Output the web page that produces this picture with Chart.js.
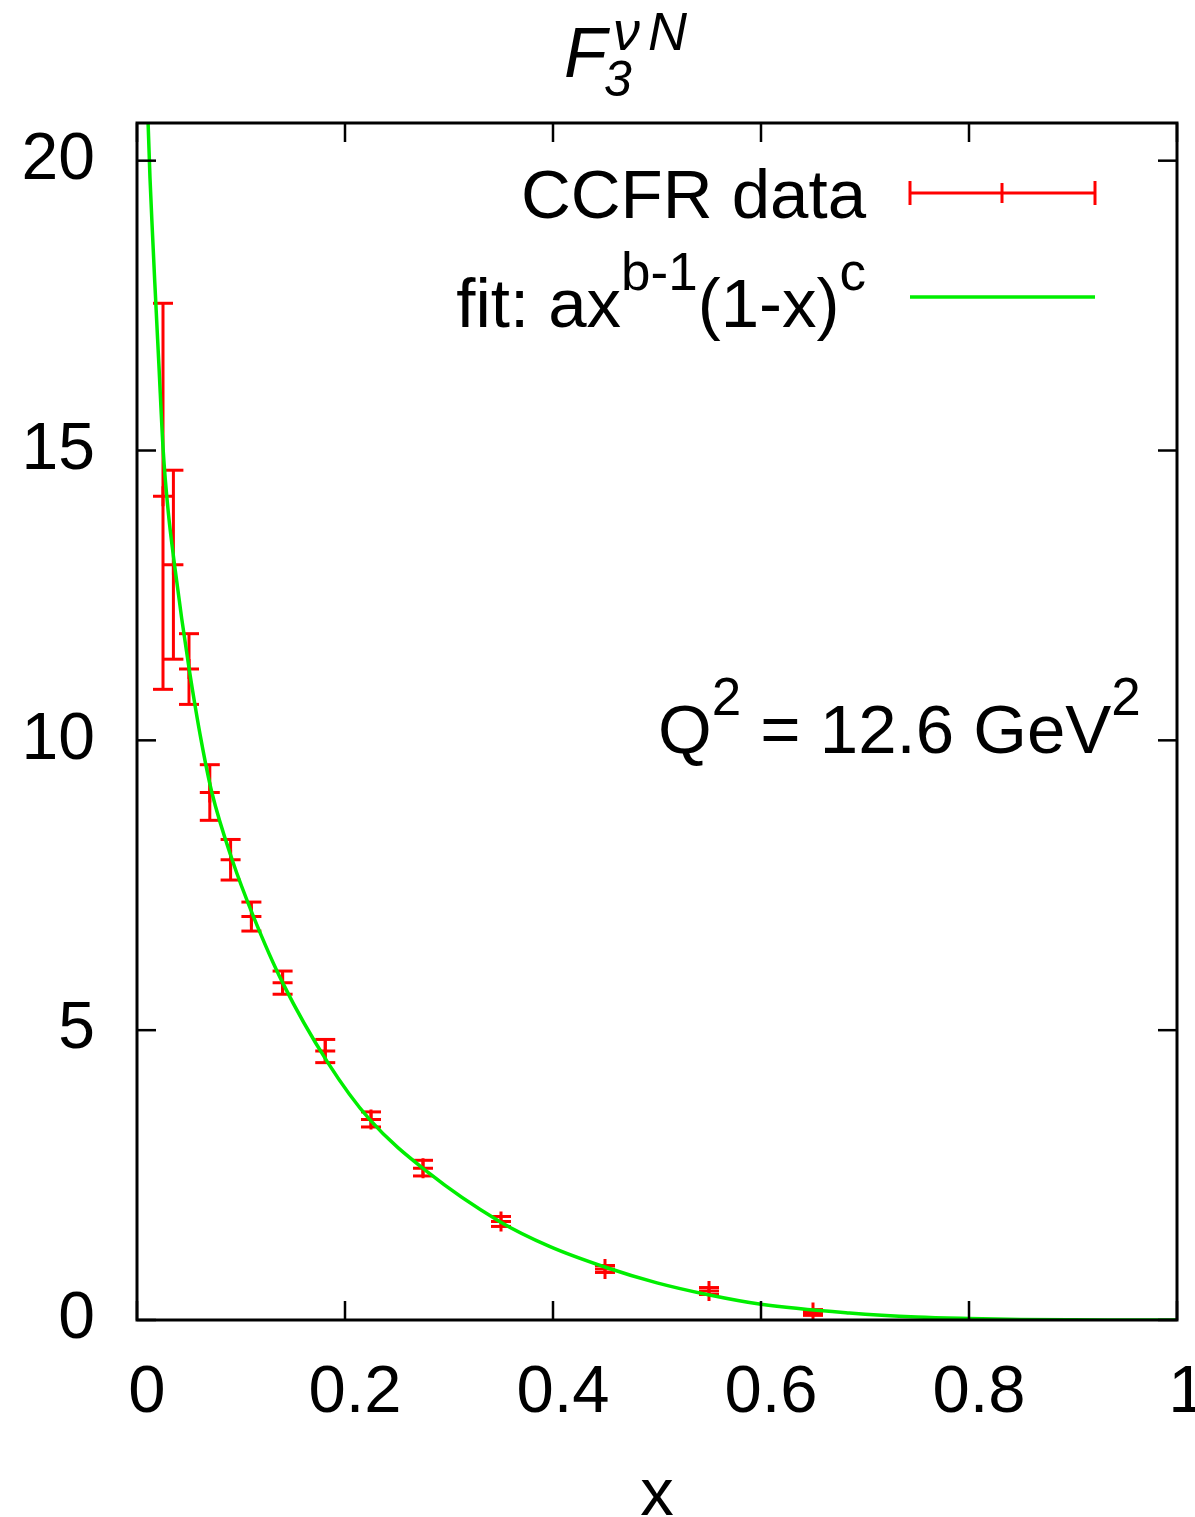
<!DOCTYPE html>
<html lang="en">
<head>
<meta charset="UTF-8">
<title>F3 nu N - CCFR</title>
<style>
    body { margin: 0; background: #fff; }
    #wrap { width: 1195px; height: 1517px; }
</style>
<script src="https://cdn.jsdelivr.net/npm/chart.js"></script>
</head>
<body>
<div id="wrap"><canvas id="f3Chart" width="1195" height="1517"></canvas></div>
<script>
// CCFR data points (x, F3, error)
const dataX = [0.025, 0.035, 0.050, 0.070, 0.090, 0.110, 0.140, 0.181, 0.225, 0.275, 0.350, 0.450, 0.550, 0.650];
const dataY = [14.21, 13.03, 11.23, 9.10, 7.94, 6.96, 5.82, 4.64, 3.46, 2.62, 1.70, 0.88, 0.50, 0.13];
const dataErr = [3.33, 1.63, 0.61, 0.48, 0.35, 0.25, 0.20, 0.20, 0.13, 0.135, 0.086, 0.06, 0.06, 0.05];

// fit curve
const fitX = [0.008, 0.0100, 0.0125, 0.015, 0.0171, 0.021, 0.0252, 0.030, 0.0363, 0.043, 0.050, 0.0617, 0.072,
              0.0915, 0.112, 0.140, 0.1835, 0.2236, 0.2796, 0.3486, 0.3966, 0.4505, 0.50, 0.5505, 0.60, 0.685,
              0.75, 0.80, 0.85, 0.90, 0.95, 1.0];
const fitY = [22.3, 21.0, 19.7, 18.7, 17.9, 16.5, 15.0, 13.95, 13.0, 12.1, 11.25, 10.0, 9.1,
              7.94, 6.96, 5.82, 4.44, 3.46, 2.55, 1.70, 1.27, 0.91, 0.64, 0.43, 0.27, 0.12,
              0.05, 0.025, 0.01, 0.003, 0.0005, 0];

const xTicks = [0, 0.2, 0.4, 0.6, 0.8, 1];
const xTickLabels = ['0', '0.2', '0.4', '0.6', '0.8', '1'];
const yTicks = [0, 5, 10, 15, 20];
const yTickLabels = ['0', '5', '10', '15', '20'];

const FONT = '"Liberation Sans", Arial, Helvetica, sans-serif';
const RED = '#ff0000';
const GREEN = '#00ee00';

function drawRich(ctx, parts, xLeft, xRight, baseline) {
    let w = 0;
    parts.forEach(p => {
        ctx.font = (p.italic ? 'italic ' : '') + p.size + 'px ' + FONT;
        p.w = ctx.measureText(p.t).width;
        w += p.w;
    });
    let x = xLeft !== null ? xLeft : xRight - w;
    parts.forEach(p => {
        ctx.font = (p.italic ? 'italic ' : '') + p.size + 'px ' + FONT;
        ctx.fillText(p.t, x, baseline - (p.rise || 0));
        x += p.w;
    });
}

function line(ctx, x1, y1, x2, y2) {
    ctx.beginPath();
    ctx.moveTo(x1, y1);
    ctx.lineTo(x2, y2);
    ctx.stroke();
}

// error bars under the points
const errorBars = {
    id: 'errorBars',
    beforeDatasetsDraw(chart) {
        const ctx = chart.ctx, xs = chart.scales.x, ys = chart.scales.y;
        ctx.save();
        ctx.strokeStyle = RED;
        ctx.lineWidth = 3;
        dataX.forEach((x, i) => {
            const px = xs.getPixelForValue(x);
            const top = ys.getPixelForValue(dataY[i] + dataErr[i]);
            const bot = ys.getPixelForValue(dataY[i] - dataErr[i]);
            line(ctx, px, top, px, bot);
            line(ctx, px - 10, top, px + 10, top);
            line(ctx, px - 10, bot, px + 10, bot);
        });
        ctx.restore();
    }
};

// frame, inner ticks, title, legend, labels
const decorations = {
    id: 'decorations',
    afterDraw(chart) {
        const ctx = chart.ctx, a = chart.chartArea;
        const xs = chart.scales.x, ys = chart.scales.y;
        ctx.save();
        ctx.strokeStyle = '#000';
        ctx.lineWidth = 2.5;
        const tl = 19;
        xTicks.forEach(v => {
            const px = xs.getPixelForValue(v);
            line(ctx, px, a.bottom, px, a.bottom - tl);
            line(ctx, px, a.top, px, a.top + tl);
        });
        yTicks.forEach(v => {
            const py = ys.getPixelForValue(v);
            line(ctx, a.left, py, a.left + tl, py);
            line(ctx, a.right, py, a.right - tl, py);
        });
        ctx.lineWidth = 3;
        ctx.strokeRect(a.left, a.top, a.right - a.left, a.bottom - a.top);

        ctx.fillStyle = '#000';
        ctx.textAlign = 'left';
        ctx.textBaseline = 'alphabetic';

        // title
        ctx.font = 'italic 70px ' + FONT;
        ctx.fillText('F', 564, 77);
        ctx.font = 'italic 50px ' + FONT;
        ctx.fillText('3', 604, 96);
        ctx.font = 'italic 54px ' + FONT;
        ctx.fillText('\u03BD', 613, 50);
        ctx.fillText('N', 648, 50);

        // x axis label
        ctx.font = '67px ' + FONT;
        ctx.textAlign = 'center';
        ctx.fillText('x', (a.left + a.right) / 2, 1515);
        ctx.textAlign = 'left';

        // legend
        drawRich(ctx, [{t: 'CCFR data', size: 69}], null, 866, 218);
        drawRich(ctx, [
            {t: 'fit: ax', size: 69},
            {t: 'b-1', size: 53, rise: 37},
            {t: '(1-x)', size: 69},
            {t: 'c', size: 53, rise: 37}
        ], null, 866, 327);

        ctx.strokeStyle = RED;
        ctx.lineWidth = 3;
        line(ctx, 910, 193, 1095, 193);
        line(ctx, 910, 181, 910, 205);
        line(ctx, 1095, 181, 1095, 205);
        line(ctx, 1002, 183, 1002, 203);
        ctx.strokeStyle = GREEN;
        ctx.lineWidth = 3.5;
        line(ctx, 910, 297, 1095, 297);

        // Q^2 note
        drawRich(ctx, [
            {t: 'Q', size: 69},
            {t: '2', size: 53, rise: 38},
            {t: ' = 12.6 GeV', size: 69},
            {t: '2', size: 53, rise: 38}
        ], 658, null, 753);
        ctx.restore();
    }
};

const ctx = document.getElementById('f3Chart').getContext('2d');
new Chart(ctx, {
    type: 'scatter',
    data: {
        datasets: [
            {
                label: 'fit',
                data: fitX.map((x, i) => ({x: x, y: fitY[i]})),
                showLine: true,
                borderColor: GREEN,
                borderWidth: 3.5,
                pointRadius: 0,
                cubicInterpolationMode: 'monotone',
                fill: false
            },
            {
                label: 'CCFR data',
                data: dataX.map((x, i) => ({x: x, y: dataY[i]})),
                pointStyle: 'cross',
                pointRadius: 10,
                borderColor: RED,
                borderWidth: 3,
                showLine: false
            }
        ]
    },
    options: {
        responsive: false,
        animation: false,
        devicePixelRatio: 1,
        layout: {padding: {top: 123, right: 18, left: 0, bottom: 0}},
        plugins: {legend: {display: false}, tooltip: {enabled: false}},
        scales: {
            x: {
                type: 'linear',
                min: 0,
                max: 1,
                grid: {display: false, drawTicks: false},
                border: {display: false},
                ticks: {
                    padding: 33,
                    labelOffset: 10,
                    color: '#000',
                    font: {family: FONT, size: 67},
                    maxRotation: 0,
                    callback: v => xTickLabels[xTicks.findIndex(t => Math.abs(t - v) < 1e-9)]
                },
                afterBuildTicks: s => { s.ticks = xTicks.map(v => ({value: v})); },
                afterFit: s => { s.height = 197; s.paddingLeft = 0; s.paddingRight = 0; }
            },
            y: {
                type: 'linear',
                min: 0,
                max: 20.65,
                grid: {display: false, drawTicks: false},
                border: {display: false},
                ticks: {
                    padding: 42,
                    color: '#000',
                    font: {family: FONT, size: 66},
                    callback: v => yTickLabels[yTicks.indexOf(v)]
                },
                afterBuildTicks: s => { s.ticks = yTicks.map(v => ({value: v})); },
                afterFit: s => { s.width = 137; s.paddingTop = 0; s.paddingBottom = 0; }
            }
        }
    },
    plugins: [errorBars, decorations]
});
</script>
</body>
</html>
